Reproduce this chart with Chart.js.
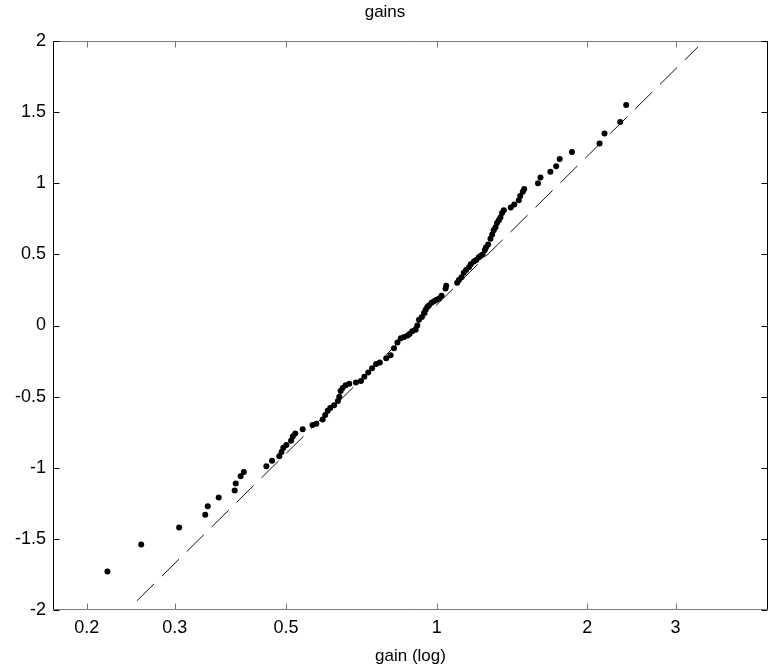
<!DOCTYPE html>
<html lang="en">
<head>
  <meta charset="UTF-8" />
  <title>gains</title>
  <script src="https://cdn.jsdelivr.net/npm/chart.js"></script>
  <style>
    html, body { margin: 0; padding: 0; background: #fff; }
    #wrap { width: 771px; height: 670px; }
  </style>
</head>
<body>
  <div id="wrap"><canvas id="qqChart" width="771" height="670"></canvas></div>

  <script>
    // sorted gains (x, log axis) against their quantiles (y)
    const gains = [
      0.220, 0.257, 0.306, 0.345, 0.349, 0.367, 0.395, 0.397, 0.406, 0.412,
      0.457, 0.469, 0.485, 0.490, 0.494, 0.501, 0.512, 0.516, 0.522, 0.540,
      0.565, 0.575, 0.592, 0.599, 0.606, 0.613, 0.624, 0.635, 0.639, 0.643,
      0.649, 0.658, 0.669, 0.690, 0.706, 0.717, 0.730, 0.743, 0.757, 0.770,
      0.793, 0.809, 0.822, 0.835, 0.848, 0.861, 0.875, 0.883, 0.894, 0.908,
      0.915, 0.922, 0.934, 0.944, 0.951, 0.958, 0.965, 0.977, 0.988, 0.998,
      1.011, 1.023, 1.042, 1.045, 1.099, 1.108, 1.121, 1.133, 1.145, 1.160,
      1.170, 1.187, 1.200, 1.214, 1.225, 1.236, 1.248, 1.255, 1.267, 1.281,
      1.291, 1.300, 1.311, 1.320, 1.331, 1.341, 1.351, 1.362, 1.406, 1.429,
      1.459, 1.469, 1.486, 1.496, 1.594, 1.612, 1.687, 1.733, 1.761, 1.863,
      2.115, 2.164, 2.326, 2.391
    ];
    const quantiles = [
      -1.73, -1.54, -1.42, -1.33, -1.27, -1.21, -1.16, -1.11, -1.06, -1.03,
      -0.99, -0.95, -0.92, -0.89, -0.86, -0.84, -0.81, -0.78, -0.76, -0.73,
      -0.70, -0.69, -0.66, -0.63, -0.60, -0.58, -0.56, -0.53, -0.50, -0.46,
      -0.44, -0.42, -0.41, -0.40, -0.39, -0.36, -0.33, -0.30, -0.27, -0.26,
      -0.23, -0.21, -0.16, -0.12, -0.09, -0.08, -0.07, -0.06, -0.04, -0.03,
      0.00, 0.04, 0.06, 0.09, 0.11, 0.13, 0.14, 0.16, 0.17, 0.18,
      0.19, 0.21, 0.26, 0.28, 0.30, 0.32, 0.34, 0.37, 0.39, 0.41,
      0.43, 0.45, 0.46, 0.48, 0.49, 0.50, 0.53, 0.55, 0.57, 0.61,
      0.64, 0.67, 0.69, 0.72, 0.74, 0.76, 0.79, 0.81, 0.83, 0.85,
      0.88, 0.91, 0.94, 0.96, 1.00, 1.04, 1.08, 1.12, 1.17, 1.22,
      1.28, 1.35, 1.43, 1.55
    ];

    // reference line (dashed), end points
    const fitX = [0.252, 3.33];
    const fitY = [-1.935, 1.96];

    const xTicks = [0.2, 0.3, 0.5, 1, 2, 3];
    const yTicks = [-2, -1.5, -1, -0.5, 0, 0.5, 1, 1.5, 2];
    const xRange = [0.1713, 4.59];
    const yRange = [-2, 2];

    const FONT = 'Liberation Sans, Arial, Helvetica, sans-serif';

    // MATLAB-style box with inward ticks on all four sides
    const boxTicks = {
      id: 'boxTicks',
      afterDatasetsDraw(chart) {
        const c = chart.ctx;
        const a = chart.chartArea;
        const xs = chart.scales.x, ys = chart.scales.y;
        const L = Math.round(a.left) + 0.5, R = Math.round(a.right) - 0.5;
        const T = Math.round(a.top) + 0.5, B = Math.round(a.bottom) - 0.5;
        const len = 6;
        c.save();
        c.lineWidth = 1;
        // top & bottom
        c.strokeStyle = '#7a7a7a';
        c.beginPath();
        c.moveTo(L, T); c.lineTo(R, T);
        c.moveTo(L, B); c.lineTo(R, B);
        xTicks.forEach(v => {
          const px = Math.round(xs.getPixelForValue(v)) + 0.5;
          c.moveTo(px, B); c.lineTo(px, B - len);
          c.moveTo(px, T); c.lineTo(px, T + len);
        });
        c.stroke();
        // left & right
        c.strokeStyle = '#000';
        c.beginPath();
        c.moveTo(L, T); c.lineTo(L, B);
        c.moveTo(R, T); c.lineTo(R, B);
        yTicks.forEach(v => {
          const py = Math.round(ys.getPixelForValue(v)) + 0.5;
          c.moveTo(L, py); c.lineTo(L + len, py);
          c.moveTo(R, py); c.lineTo(R - len, py);
        });
        c.stroke();
        c.restore();
      }
    };

    const ctx = document.getElementById('qqChart').getContext('2d');

    new Chart(ctx, {
      type: 'scatter',
      data: {
        datasets: [
          {
            label: 'gains',
            data: gains.map((g, i) => ({ x: g, y: quantiles[i] })),
            pointRadius: 3,
            pointHoverRadius: 3,
            pointBackgroundColor: '#000',
            pointBorderWidth: 0,
            showLine: false
          },
          {
            type: 'line',
            label: 'fit',
            data: fitX.map((g, i) => ({ x: g, y: fitY[i] })),
            borderColor: '#111',
            borderWidth: 1,
            borderDash: [24, 11],
            pointRadius: 0,
            fill: false
          }
        ]
      },
      options: {
        responsive: false,
        animation: false,
        events: [],
        layout: { padding: { left: 0, right: 1, top: 0, bottom: 0 } },
        plugins: {
          legend: { display: false },
          tooltip: { enabled: false },
          title: {
            display: true,
            text: 'gains',
            color: '#000',
            font: { family: FONT, size: 17, weight: 'normal' },
            padding: { top: 2, bottom: 18.6 }
          }
        },
        scales: {
          x: {
            type: 'logarithmic',
            min: xRange[0],
            max: xRange[1],
            grid: { display: false, drawTicks: false },
            border: { display: false },
            afterBuildTicks: s => { s.ticks = xTicks.map(v => ({ value: v })); },
            afterFit: s => { s.height = 60; },
            ticks: {
              color: '#000',
              padding: 7,
              maxRotation: 0,
              autoSkip: false,
              font: { family: FONT, size: 18 },
              callback: v => String(v)
            },
            title: {
              display: true,
              text: 'gain (log)',
              color: '#000',
              font: { family: FONT, size: 17 },
              padding: { top: 0, bottom: 3 }
            }
          },
          y: {
            min: yRange[0],
            max: yRange[1],
            grid: { display: false, drawTicks: false },
            border: { display: false },
            afterBuildTicks: s => { s.ticks = yTicks.map(v => ({ value: v })); },
            afterFit: s => { s.width = 53; },
            ticks: {
              color: '#000',
              padding: 7,
              font: { family: FONT, size: 18 },
              callback: v => String(v)
            }
          }
        }
      },
      plugins: [boxTicks]
    });
  </script>
</body>
</html>
